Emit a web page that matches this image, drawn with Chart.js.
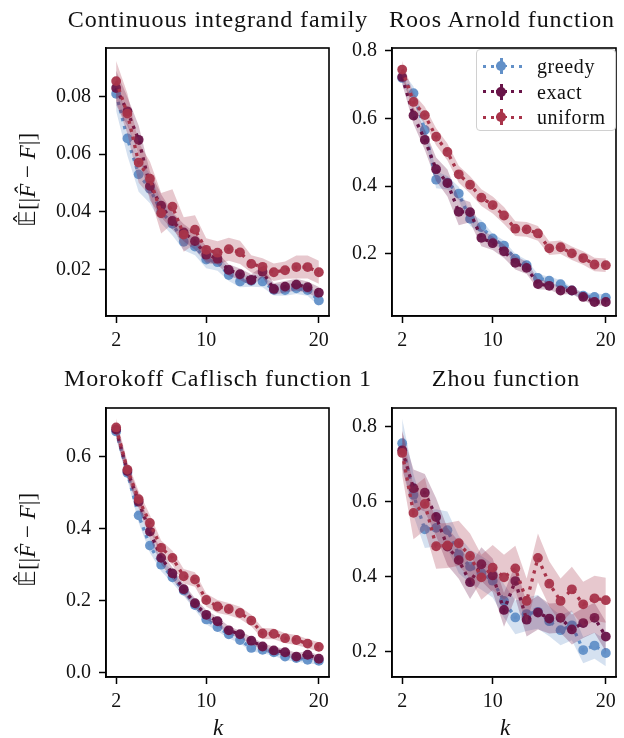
<!DOCTYPE html>
<html>
<head>
<meta charset="utf-8">
<script src="https://cdn.jsdelivr.net/npm/chart.js@4"></script>
<style>
  body { margin: 0; background: #fff; }
  #fig { position: relative; width: 624px; height: 738px; background: #fff; font-family: "Liberation Serif", serif; color: #111; }
  #fig canvas { position: absolute; }
  .title { position: absolute; font-size: 24px; white-space: nowrap; transform: translateX(-50%); letter-spacing: 0.9px; }
  .ylab { position: absolute; font-size: 23px; white-space: nowrap; transform: translate(-50%, -50%) rotate(-90deg); }
  .klab { position: absolute; font-size: 23px; font-style: italic; transform: translateX(-50%); }
  #legend { position: absolute; left: 476px; top: 49px; width: 140px; height: 82px; border: 1.5px solid #d0d0d0; border-radius: 4px; background: rgba(255,255,255,0.85); box-sizing: border-box; }
  .lrow { position: absolute; left: 0; height: 24px; width: 100%; }
  .lrow span { position: absolute; left: 60px; top: 0; font-size: 20px; line-height: 24px; letter-spacing: 0.6px; }
  .dot { position: absolute; top: 10.5px; width: 3.3px; height: 3.3px; }
  .vbar { position: absolute; left: 23px; top: 4px; width: 2.5px; height: 16px; }
  .hbar { position: absolute; left: 19px; top: 10.8px; width: 11px; height: 2.5px; }
  .mk { position: absolute; left: 19.4px; top: 7.3px; width: 9.8px; height: 9.8px; border-radius: 50%; }
</style>
</head>
<body>
<div id="fig"></div>
<script>
// k values
const ks = [2, 3, 4, 5, 6, 7, 8, 9, 10, 11, 12, 13, 14, 15, 16, 17, 18, 19, 20];
const xTicks = [2, 10, 20];

// Continuous integrand family
const greedy1 = [0.081, 0.0655, 0.053, 0.048, 0.040, 0.0358, 0.0296, 0.0279, 0.0234, 0.0225, 0.018, 0.0158, 0.016, 0.0158, 0.0129, 0.0128, 0.0134, 0.0128, 0.0092];
const exact1 = [0.083, 0.0749, 0.065, 0.049, 0.0421, 0.0368, 0.0328, 0.0298, 0.0251, 0.0237, 0.0198, 0.0183, 0.0163, 0.0192, 0.0132, 0.014, 0.0147, 0.0138, 0.0119];
const uniform1 = [0.0854, 0.0741, 0.0571, 0.0515, 0.0395, 0.0418, 0.0321, 0.0338, 0.0268, 0.0258, 0.027, 0.0259, 0.0219, 0.0209, 0.019, 0.0197, 0.0208, 0.0208, 0.019];
const greedy1Err = [0.006, 0.006, 0.006, 0.005, 0.004, 0.004, 0.003, 0.003, 0.003, 0.003, 0.002, 0.002, 0.002, 0.002, 0.002, 0.002, 0.002, 0.002, 0.002];
const exact1Err = [0.006, 0.005, 0.005, 0.005, 0.004, 0.003, 0.003, 0.003, 0.003, 0.002, 0.002, 0.002, 0.002, 0.002, 0.002, 0.002, 0.002, 0.002, 0.002];
const uniform1Err = [0.007, 0.007, 0.007, 0.006, 0.007, 0.006, 0.006, 0.005, 0.004, 0.004, 0.004, 0.004, 0.003, 0.003, 0.003, 0.003, 0.004, 0.004, 0.004];
const yTicks1 = [0.02, 0.04, 0.06, 0.08];
const yLabels1 = ['0.02', '0.04', '0.06', '0.08'];

// Roos Arnold function
const greedy2 = [0.72, 0.675, 0.566, 0.419, 0.41, 0.378, 0.303, 0.279, 0.245, 0.224, 0.185, 0.166, 0.128, 0.12, 0.11, 0.091, 0.076, 0.072, 0.07];
const exact2 = [0.723, 0.609, 0.537, 0.45, 0.409, 0.324, 0.323, 0.247, 0.231, 0.207, 0.173, 0.158, 0.11, 0.105, 0.091, 0.091, 0.072, 0.057, 0.057];
const uniform2 = [0.745, 0.649, 0.61, 0.546, 0.501, 0.435, 0.404, 0.366, 0.344, 0.313, 0.274, 0.272, 0.26, 0.216, 0.219, 0.201, 0.187, 0.168, 0.166];
const greedy2Err = [0.02, 0.02, 0.02, 0.025, 0.02, 0.02, 0.02, 0.02, 0.015, 0.015, 0.015, 0.015, 0.012, 0.012, 0.012, 0.01, 0.01, 0.01, 0.01];
const exact2Err = [0.02, 0.025, 0.03, 0.035, 0.04, 0.04, 0.03, 0.025, 0.02, 0.02, 0.02, 0.018, 0.015, 0.012, 0.012, 0.01, 0.01, 0.01, 0.01];
const uniform2Err = [0.025, 0.025, 0.025, 0.025, 0.025, 0.025, 0.025, 0.025, 0.025, 0.025, 0.022, 0.022, 0.022, 0.02, 0.02, 0.02, 0.02, 0.02, 0.02];
const yTicks2 = [0.2, 0.4, 0.6, 0.8];
const yLabels2 = ['0.2', '0.4', '0.6', '0.8'];

// Morokoff Caflisch function 1
const greedy3 = [0.67, 0.555, 0.437, 0.353, 0.30, 0.265, 0.228, 0.188, 0.148, 0.127, 0.107, 0.091, 0.069, 0.064, 0.057, 0.045, 0.041, 0.036, 0.033];
const exact3 = [0.675, 0.56, 0.475, 0.392, 0.319, 0.276, 0.232, 0.193, 0.161, 0.143, 0.118, 0.107, 0.089, 0.073, 0.062, 0.057, 0.045, 0.05, 0.039];
const uniform3 = [0.681, 0.564, 0.482, 0.416, 0.347, 0.319, 0.268, 0.259, 0.202, 0.184, 0.177, 0.166, 0.145, 0.109, 0.108, 0.096, 0.091, 0.081, 0.072];
const greedy3Err = [0.02, 0.02, 0.02, 0.02, 0.018, 0.016, 0.015, 0.014, 0.013, 0.012, 0.011, 0.01, 0.01, 0.01, 0.01, 0.01, 0.01, 0.01, 0.01];
const exact3Err = [0.02, 0.02, 0.02, 0.02, 0.018, 0.016, 0.015, 0.014, 0.013, 0.012, 0.011, 0.01, 0.01, 0.01, 0.01, 0.01, 0.01, 0.01, 0.01];
const uniform3Err = [0.025, 0.022, 0.022, 0.022, 0.02, 0.02, 0.02, 0.02, 0.018, 0.018, 0.017, 0.017, 0.016, 0.015, 0.015, 0.014, 0.014, 0.013, 0.013];
const yTicks3 = [0.0, 0.2, 0.4, 0.6];
const yLabels3 = ['0.0', '0.2', '0.4', '0.6'];

// Zhou function
const greedy4 = [0.756, 0.618, 0.526, 0.53, 0.524, 0.459, 0.427, 0.41, 0.389, 0.335, 0.291, 0.30, 0.306, 0.281, 0.257, 0.27, 0.204, 0.216, 0.196];
const exact4 = [0.737, 0.636, 0.624, 0.559, 0.48, 0.444, 0.385, 0.433, 0.403, 0.311, 0.388, 0.285, 0.304, 0.288, 0.29, 0.259, 0.276, 0.29, 0.24];
const uniform4 = [0.73, 0.57, 0.594, 0.481, 0.483, 0.489, 0.455, 0.398, 0.424, 0.398, 0.422, 0.335, 0.45, 0.381, 0.335, 0.366, 0.326, 0.342, 0.337];
const greedy4Err = [0.065, 0.055, 0.05, 0.05, 0.05, 0.05, 0.045, 0.045, 0.045, 0.045, 0.045, 0.045, 0.045, 0.04, 0.04, 0.04, 0.035, 0.035, 0.035];
const exact4Err = [0.05, 0.05, 0.05, 0.05, 0.05, 0.05, 0.045, 0.045, 0.045, 0.045, 0.045, 0.045, 0.045, 0.04, 0.04, 0.04, 0.04, 0.04, 0.04];
const uniform4Err = [0.06, 0.07, 0.07, 0.06, 0.06, 0.06, 0.06, 0.06, 0.06, 0.06, 0.06, 0.06, 0.065, 0.06, 0.06, 0.06, 0.06, 0.06, 0.06];
const yTicks4 = [0.2, 0.4, 0.6, 0.8];
const yLabels4 = ['0.2', '0.4', '0.6', '0.8'];

const seriesNames = ['greedy', 'exact', 'uniform'];
const colors = { greedy: [98, 144, 200], exact: [104, 20, 72], uniform: [168, 52, 74] };

const fig = document.getElementById('fig');
const FONT = '"Liberation Serif", serif';
const rgba = (c, a) => `rgba(${c[0]},${c[1]},${c[2]},${a})`;

const frame = {
  id: 'frame',
  afterDatasetsDraw(chart) {
    const a = chart.chartArea, ctx = chart.ctx;
    ctx.save();
    ctx.strokeStyle = '#000';
    ctx.lineWidth = 1.6;
    ctx.strokeRect(a.left, a.top, a.right - a.left, a.bottom - a.top);
    ctx.restore();
  }
};

function addText(cls, html, x, y) {
  const d = document.createElement('div');
  d.className = cls;
  d.innerHTML = html;
  d.style.left = x + 'px';
  d.style.top = y + 'px';
  fig.appendChild(d);
  return d;
}

function panel(box, yMin, yMax, yTicks, yLabels, values, errs) {
  const padL = 80, padT = 14, padR = 14, padB = 50;
  const cv = document.createElement('canvas');
  cv.width = box.w + padL + padR;
  cv.height = box.h + padT + padB;
  cv.style.left = (box.l - padL) + 'px';
  cv.style.top = (box.t - padT) + 'px';
  fig.appendChild(cv);

  const datasets = [];
  seriesNames.forEach((name, i) => {
    const c = colors[name];
    const z = 2 * (3 - i); // uniform on top
    const lo = ks.map((k, j) => ({ x: k, y: values[i][j] - errs[i][j] }));
    const hi = ks.map((k, j) => ({ x: k, y: values[i][j] + errs[i][j] }));
    const loIdx = datasets.length;
    datasets.push({ data: lo, borderColor: 'transparent', borderWidth: 0, pointRadius: 0, fill: false, order: z });
    datasets.push({ data: hi, borderColor: 'transparent', borderWidth: 0, pointRadius: 0, fill: { target: loIdx }, backgroundColor: rgba(c, 0.27), order: z });
    datasets.push({
      label: name,
      data: ks.map((k, j) => ({ x: k, y: values[i][j] })),
      borderColor: rgba(c, 1),
      borderWidth: 3.3,
      borderDash: [3.3, 5],
      borderCapStyle: 'butt',
      pointRadius: 4.9,
      pointBackgroundColor: rgba(c, 0.95),
      pointBorderWidth: 0,
      pointHoverRadius: 4.9,
      fill: false,
      order: z - 1
    });
  });

  const tickFont = { family: FONT, size: 20 };
  new Chart(cv, {
    type: 'scatter',
    data: { datasets },
    options: {
      responsive: false,
      animation: false,
      showLine: true,
      layout: { padding: { top: padT, right: padR, left: 0, bottom: 0 } },
      plugins: { legend: { display: false }, tooltip: { enabled: false } },
      scales: {
        x: {
          type: 'linear', min: 1.1, max: 20.9,
          afterBuildTicks: s => { s.ticks = xTicks.map(v => ({ value: v })); },
          afterFit: s => { s.height = padB; },
          ticks: { font: tickFont, color: '#111', padding: 6, maxRotation: 0, callback: v => String(v) },
          grid: { drawOnChartArea: false, drawTicks: true, tickLength: 7, tickWidth: 1.5, tickColor: '#000' },
          border: { display: true, color: '#000', width: 1.6 }
        },
        y: {
          type: 'linear', min: yMin, max: yMax,
          afterBuildTicks: s => { s.ticks = yTicks.map(v => ({ value: v })); },
          afterFit: s => { s.width = padL; },
          ticks: { font: tickFont, color: '#111', padding: 8, callback: (v, i) => yLabels[i] },
          grid: { drawOnChartArea: false, drawTicks: true, tickLength: 7, tickWidth: 1.5, tickColor: '#000' },
          border: { display: true, color: '#000', width: 1.6 }
        }
      }
    },
    plugins: [frame]
  });
}

const boxes = [
  { l: 105.5, t: 42, w: 223.5, h: 274 },
  { l: 392.3, t: 42, w: 224.7, h: 274 },
  { l: 105.5, t: 402, w: 223.5, h: 275 },
  { l: 392.3, t: 402, w: 224.7, h: 275 }
];

panel(boxes[0], 0.0038, 0.0969, yTicks1, yLabels1, [greedy1, exact1, uniform1], [greedy1Err, exact1Err, uniform1Err]);
panel(boxes[1], 0.0156, 0.8087, yTicks2, yLabels2, [greedy2, exact2, uniform2], [greedy2Err, exact2Err, uniform2Err]);
panel(boxes[2], -0.0117, 0.735, yTicks3, yLabels3, [greedy3, exact3, uniform3], [greedy3Err, exact3Err, uniform3Err]);
panel(boxes[3], 0.132, 0.850, yTicks4, yLabels4, [greedy4, exact4, uniform4], [greedy4Err, exact4Err, uniform4Err]);

// titles
addText('title', 'Continuous integrand family', 218, 6);
addText('title', 'Roos Arnold function', 502, 6);
addText('title', 'Morokoff Caflisch function 1', 218, 365);
addText('title', 'Zhou function', 506, 365);

// y labels and x labels
const yl = '𝔼&#770;[|<i>F&#770;</i> &minus; <i>F</i>|]';
addText('ylab', yl, 27, 180);
addText('ylab', yl, 27, 540);
addText('klab', 'k', 218, 715);
addText('klab', 'k', 505, 715);

// legend
const leg = document.createElement('div');
leg.id = 'legend';
fig.appendChild(leg);
seriesNames.forEach((name, i) => {
  const c = rgba(colors[name], 1);
  const row = document.createElement('div');
  row.className = 'lrow';
  row.style.top = (4 + i * 25.5) + 'px';
  let h = '';
  [6, 14, 34, 42].forEach(x => { h += `<div class="dot" style="left:${x}px;background:${c}"></div>`; });
  h += `<div class="vbar" style="background:${c}"></div><div class="hbar" style="background:${c}"></div><div class="mk" style="background:${c}"></div>`;
  h += `<span>${name}</span>`;
  row.innerHTML = h;
  leg.appendChild(row);
});
</script>
</body>
</html>
